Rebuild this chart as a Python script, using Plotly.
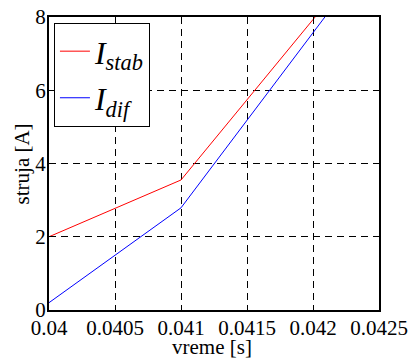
import plotly.graph_objects as go

t_stab = [0.04, 0.041, 0.042, 0.043]
i_stab = [2.0, 3.55, 7.93, 12.3]
t_dif = [0.04, 0.041, 0.042, 0.043]
i_dif = [0.2, 2.79, 7.57, 12.35]

x_ticks = [0.04, 0.0405, 0.041, 0.0415, 0.042, 0.0425]
x_labels = ["0.04", "0.0405", "0.041", "0.0415", "0.042", "0.0425"]
y_ticks = [0, 2, 4, 6, 8]

FAM = "Liberation Serif, Times New Roman, serif"

fig = go.Figure()
fig.add_trace(go.Scatter(x=t_stab, y=i_stab, mode="lines", line=dict(color="#ff0000", width=1),
                         name="<i>I</i><sub><i>stab</i></sub>", legendgroup="a"))
fig.add_trace(go.Scatter(x=t_dif, y=i_dif, mode="lines", line=dict(color="#0000ff", width=1),
                         name="<i>I</i><sub><i>dif</i></sub>", legendgroup="b"))

font = dict(family=FAM, size=21, color="black")
axis_common = dict(showline=True, linecolor="black", linewidth=2, mirror="ticks",
                   ticks="inside", ticklen=4, tickcolor="black",
                   showgrid=True, gridcolor="black", gridwidth=1, griddash="7px,5px",
                   zeroline=False, tickfont=font, automargin=False)
fig.update_xaxes(range=[0.04, 0.0425], tickvals=x_ticks, ticktext=x_labels,
                 ticklabelstandoff=-2, **axis_common)
fig.update_yaxes(range=[0, 8], tickvals=y_ticks, ticklabelstandoff=-3, **axis_common)
fig.update_layout(
    width=409, height=358,
    margin=dict(l=49, r=30, t=17, b=48),
    paper_bgcolor="white", plot_bgcolor="white",
    font=dict(family=FAM),
    showlegend=True,
    legend=dict(x=0.015, y=0.98, xanchor="left", yanchor="top",
                bgcolor="white", bordercolor="black", borderwidth=1,
                font=dict(family=FAM, size=32, color="black"),
                itemwidth=30, traceorder="grouped", tracegroupgap=2),
    annotations=[
        dict(text="vreme [s]", xref="paper", yref="paper", x=0.495, y=-0.126,
             xanchor="center", yanchor="middle", showarrow=False, font=font),
        dict(text="struja [A]", xref="paper", yref="paper", x=-0.082, y=0.5,
             xanchor="center", yanchor="middle", textangle=-90, showarrow=False, font=font),
    ],
)
fig.write_html("out.html")
